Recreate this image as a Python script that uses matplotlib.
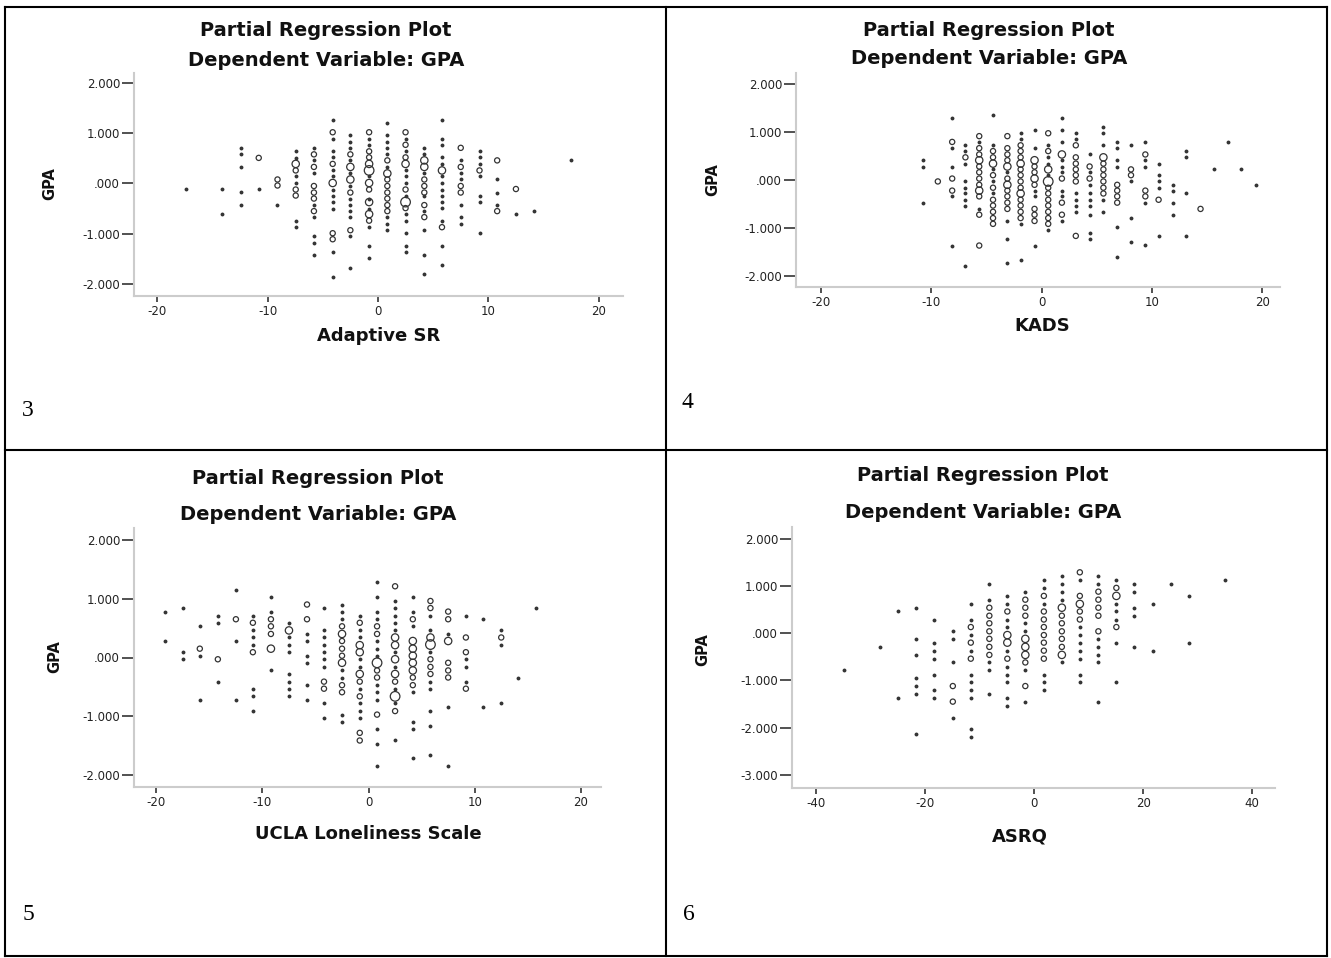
#!/usr/bin/env python3
"""Four SPSS-style partial regression plots (dependent variable GPA) in a 2x2 table."""
import matplotlib
matplotlib.use('Agg')
import matplotlib.pyplot as plt
from matplotlib.lines import Line2D

plt.rcParams['font.family'] = ['DejaVu Sans']
plt.rcParams['axes.unicode_minus'] = False

W, H = 1331, 958

# ---- data: binned points, one column per x bin -------------------------
# dots = single cases, rings = (y, count class) for stacked cases

p3_x = [-17.4, -14.1, -12.4, -10.8, -9.1, -7.45, -5.8, -4.1, -2.5, -0.8,
        0.85, 2.5, 4.2, 5.8, 7.5, 9.2, 10.8, 12.5, 14.1, 17.5]
p3_dots = [
    [-0.11],
    [-0.11, -0.61],
    [0.71, 0.58, 0.33, -0.17, -0.42],
    [-0.11],
    [-0.43],
    [0.64, 0.51, 0.14, 0.01, -0.74, -0.87],
    [0.71, 0.46, 0.20, -0.43, -0.67, -1.05, -1.18, -1.43],
    [1.27, 0.89, 0.64, 0.52, 0.26, 0.14, -0.12, -0.24, -0.37, -0.50, -1.37, -1.86],
    [0.96, 0.83, 0.71, 0.46, 0.20, -0.05, -0.30, -0.43, -0.55, -0.67, -1.05, -1.68],
    [0.89, 0.77, 0.14, -0.30, -0.50, -0.87, -1.24, -1.49],
    [1.21, 0.96, 0.83, 0.71, 0.58, 0.33, -0.67, -0.80, -0.93],
    [0.89, 0.64, 0.26, 0.14, 0.01, -0.24, -0.61, -0.74, -0.99, -1.24, -1.37],
    [0.71, 0.58, 0.20, -0.24, -0.55, -0.93, -1.43, -1.80],
    [1.27, 0.89, 0.77, 0.52, 0.39, 0.14, 0.01, -0.12, -0.24, -0.37, -0.49, -0.74, -1.24, -1.62],
    [0.46, 0.20, 0.08, -0.43, -0.67, -0.80],
    [0.64, 0.52, 0.39, 0.14, -0.24, -0.37, -0.99],
    [0.08, -0.18, -0.43],
    [-0.61],
    [-0.55],
    [0.46],
]
p3_rings = [
    [], [], [],
    [(0.51, 2)],
    [(0.08, 2), (-0.04, 2)],
    [(0.39, 3), (0.26, 2), (-0.12, 2), (-0.24, 2)],
    [(0.58, 2), (0.33, 2), (-0.05, 2), (-0.18, 2), (-0.30, 2), (-0.55, 2)],
    [(1.02, 2), (0.39, 2), (0.01, 3), (-0.99, 2), (-1.11, 2)],
    [(0.58, 2), (0.33, 3), (0.08, 3), (-0.18, 2), (-0.93, 2)],
    [(1.02, 2), (0.64, 2), (0.52, 2), (0.39, 3), (0.26, 4), (0.01, 3),
     (-0.12, 2), (-0.37, 3), (-0.61, 3), (-0.74, 2)],
    [(0.46, 2), (0.20, 3), (0.08, 2), (-0.05, 2), (-0.18, 2), (-0.30, 2),
     (-0.43, 2), (-0.55, 2)],
    [(1.02, 2), (0.77, 2), (0.52, 2), (0.39, 3), (-0.12, 2), (-0.37, 4), (-0.49, 2)],
    [(0.46, 3), (0.33, 3), (0.08, 2), (-0.05, 2), (-0.18, 2), (-0.43, 2), (-0.67, 2)],
    [(0.26, 3), (-0.87, 2)],
    [(0.71, 2), (0.33, 2), (-0.05, 2), (-0.18, 2)],
    [(0.26, 2)],
    [(0.46, 2), (-0.55, 2)],
    [(-0.11, 2)],
    [], [],
]

p4_x = [-10.7, -9.4, -8.1, -6.9, -5.65, -4.4, -3.1, -1.9, -0.64, 0.6, 1.84, 3.1,
        4.35, 5.6, 6.85, 8.1, 9.4, 10.6, 11.9, 13.1, 14.4, 15.6, 16.9, 18.1, 19.4]
p4_dots = [
    [0.41, 0.28, -0.47],
    [],
    [1.29, 0.66, 0.28, -0.34, -1.36],
    [0.72, 0.60, 0.34, -0.03, -0.16, -0.28, -0.41, -0.53, -1.79],
    [0.79, -0.60],
    [1.35, 0.72, 0.22, -0.03, -0.28],
    [0.16, -0.85, -1.23, -1.73],
    [0.97, 0.85, -0.91, -1.67],
    [1.03, 0.66, -0.22, -0.34, -1.36],
    [0.72, 0.47, 0.34, 0.10, -1.03],
    [1.29, 1.03, 0.79, 0.41, 0.28, 0.16, -0.22, -0.34, -0.85],
    [0.97, 0.85, -0.28, -0.41, -0.53, -0.66],
    [0.53, 0.16, -0.10, -0.28, -0.41, -0.53, -0.72, -1.10, -1.23],
    [1.10, 0.97, 0.72, -0.41, -0.66],
    [0.79, 0.66, 0.41, 0.28, -0.97, -1.60],
    [0.72, -0.03, -0.79, -1.29],
    [0.79, 0.41, 0.28, -0.47, -1.35],
    [0.34, 0.10, -0.03, -0.16, -1.16],
    [-0.10, -0.22, -0.47, -0.72],
    [0.60, 0.47, -0.28, -1.16],
    [],
    [0.22],
    [0.79],
    [0.22],
    [-0.10],
]
p4_rings = [
    [],
    [(-0.03, 2)],
    [(0.79, 2), (0.03, 2), (-0.22, 2)],
    [(0.47, 2)],
    [(0.91, 2), (0.66, 2), (0.53, 2), (0.41, 3), (0.28, 2), (0.16, 2), (0.03, 2),
     (-0.10, 2), (-0.22, 3), (-0.34, 2), (-0.72, 2), (-1.36, 2)],
    [(0.60, 2), (0.47, 2), (0.34, 3), (0.10, 2), (-0.16, 2), (-0.41, 2),
     (-0.53, 2), (-0.66, 2), (-0.79, 2), (-0.91, 2)],
    [(0.91, 2), (0.66, 2), (0.53, 2), (0.41, 2), (0.28, 3), (0.03, 2), (-0.10, 3),
     (-0.22, 2), (-0.34, 2), (-0.47, 2), (-0.60, 2)],
    [(0.72, 2), (0.60, 2), (0.47, 2), (0.34, 3), (0.22, 2), (0.10, 2), (-0.03, 2),
     (-0.16, 2), (-0.28, 3), (-0.41, 2), (-0.53, 2), (-0.66, 2), (-0.79, 2)],
    [(0.41, 3), (0.28, 2), (0.16, 2), (0.03, 3), (-0.10, 2), (-0.60, 2),
     (-0.72, 2), (-0.85, 2)],
    [(0.97, 2), (0.60, 2), (0.22, 3), (-0.03, 4), (-0.16, 2), (-0.28, 2),
     (-0.41, 2), (-0.53, 2), (-0.66, 2), (-0.79, 2), (-0.91, 2)],
    [(0.53, 3), (0.03, 2), (-0.47, 2), (-0.72, 2)],
    [(0.72, 2), (0.47, 2), (0.34, 2), (0.22, 2), (0.10, 2), (-0.03, 2), (-1.16, 2)],
    [(0.28, 2), (0.03, 2)],
    [(0.47, 3), (0.34, 2), (0.22, 2), (0.10, 2), (-0.03, 2), (-0.16, 2), (-0.28, 2)],
    [(-0.10, 2), (-0.22, 2), (-0.34, 2), (-0.47, 2)],
    [(0.22, 2), (0.10, 2)],
    [(0.53, 2), (-0.22, 2), (-0.34, 2)],
    [(-0.41, 2)],
    [], [],
    [(-0.60, 2)],
    [], [], [], [],
]

p5_x = [-19.2, -17.5, -15.9, -14.2, -12.5, -10.9, -9.2, -7.5, -5.8, -4.2, -2.5,
        -0.83, 0.8, 2.5, 4.17, 5.83, 7.5, 9.17, 10.8, 12.5, 14.1, 15.8]
p5_dots = [
    [0.78, 0.28],
    [0.84, 0.09, -0.03],
    [0.53, 0.03, -0.72],
    [0.71, 0.59, -0.41],
    [1.15, 0.28, -0.72],
    [0.71, 0.46, 0.34, 0.21, -0.53, -0.66, -0.91],
    [1.03, 0.78, -0.22],
    [0.59, 0.34, 0.21, 0.09, -0.28, -0.41, -0.53, -0.66],
    [0.40, 0.28, 0.03, -0.09, -0.47, -0.72],
    [0.84, 0.46, 0.34, 0.21, 0.09, -0.03, -0.16, -0.78, -1.03],
    [0.90, 0.78, 0.65, -0.22, -0.34, -0.97, -1.09],
    [0.71, 0.46, 0.34, -0.03, -0.16, -0.53, -0.78, -0.91, -1.03],
    [1.28, 1.03, 0.78, 0.65, 0.28, 0.15, 0.03, -0.47, -0.59, -0.72, -1.22, -1.47, -1.84],
    [0.96, 0.84, 0.71, 0.59, 0.46, 0.09, -0.16, -0.53, -0.78, -1.41],
    [1.03, 0.78, 0.53, -0.59, -1.09, -1.22, -1.71],
    [0.71, 0.46, 0.09, -0.41, -0.53, -0.91, -1.16, -1.65],
    [0.40, -0.84, -1.84],
    [0.71, -0.03, -0.16, -0.41],
    [0.65, -0.84],
    [0.46, 0.21, -0.78],
    [-0.34],
    [0.84],
]
p5_rings = [
    [], [],
    [(0.15, 2)],
    [(-0.03, 2)],
    [(0.65, 2)],
    [(0.59, 2), (0.09, 2)],
    [(0.65, 2), (0.53, 2), (0.40, 2), (0.15, 3)],
    [(0.46, 3)],
    [(0.90, 2), (0.65, 2)],
    [(-0.41, 2), (-0.53, 2)],
    [(0.53, 2), (0.40, 3), (0.28, 2), (0.15, 2), (0.03, 2), (-0.09, 3),
     (-0.47, 2), (-0.59, 2)],
    [(0.59, 2), (0.21, 3), (0.09, 3), (-0.28, 3), (-0.41, 2), (-0.66, 2),
     (-1.28, 2), (-1.41, 2)],
    [(0.53, 2), (0.40, 2), (-0.09, 4), (-0.22, 2), (-0.34, 2), (-0.97, 2)],
    [(1.21, 2), (0.34, 3), (0.21, 3), (-0.03, 3), (-0.28, 3), (-0.41, 2),
     (-0.66, 4), (-0.91, 2)],
    [(0.65, 2), (0.28, 3), (0.15, 3), (0.03, 3), (-0.09, 3), (-0.22, 3),
     (-0.34, 2), (-0.47, 2)],
    [(0.96, 2), (0.84, 2), (0.34, 3), (0.22, 4), (-0.03, 2), (-0.16, 2), (-0.28, 2)],
    [(0.78, 2), (0.65, 2), (0.28, 3), (-0.09, 2), (-0.22, 2), (-0.34, 2)],
    [(0.34, 2), (0.09, 2), (-0.53, 2)],
    [],
    [(0.34, 2)],
    [], [],
]

p6_x = [-34.9, -28.3, -24.9, -21.6, -18.3, -14.9, -11.6, -8.2, -4.9, -1.6,
        1.8, 5.1, 8.4, 11.8, 15.1, 18.4, 21.8, 25.1, 28.5, 35.1]
p6_dots = [
    [-0.79],
    [-0.29],
    [0.46, -1.38],
    [0.54, -0.12, -0.46, -0.95, -1.12, -1.29, -2.13],
    [0.29, -0.20, -0.37, -0.54, -0.88, -1.21, -1.38],
    [0.04, -0.12, -0.62, -1.79],
    [0.62, 0.29, -0.04, -0.37, -0.88, -1.04, -1.21, -1.38, -2.04, -2.20],
    [1.04, 0.71, -0.62, -0.79, -1.29],
    [0.79, 0.62, 0.29, 0.13, -0.37, -0.71, -0.88, -1.04, -1.38, -1.54],
    [0.88, 0.21, 0.04, -0.79, -1.45],
    [1.12, 0.96, 0.62, -0.88, -1.04, -1.21],
    [1.21, 1.04, 0.88, 0.71, -0.62],
    [1.12, 0.13, -0.04, -0.20, -0.37, -0.54, -0.88, -1.04],
    [1.21, 1.04, -0.12, -0.29, -0.46, -0.62, -1.45],
    [1.12, 0.62, 0.46, 0.29, -0.20, -1.04],
    [1.04, 0.88, 0.54, 0.37, -0.29],
    [0.62, -0.37],
    [1.04],
    [0.79, -0.20],
    [1.12],
]
p6_rings = [
    [], [], [], [], [],
    [(-1.12, 2), (-1.45, 2)],
    [(0.13, 2), (-0.20, 2), (-0.54, 2)],
    [(0.54, 2), (0.37, 2), (0.21, 2), (0.04, 2), (-0.12, 2), (-0.29, 2), (-0.46, 2)],
    [(0.46, 2), (-0.04, 3), (-0.20, 3), (-0.54, 2)],
    [(0.71, 2), (0.54, 2), (0.37, 2), (-0.12, 3), (-0.29, 3), (-0.46, 3),
     (-0.62, 2), (-1.12, 2)],
    [(0.79, 2), (0.46, 2), (0.29, 2), (0.13, 2), (-0.04, 2), (-0.20, 2),
     (-0.37, 2), (-0.54, 2)],
    [(0.54, 3), (0.37, 2), (0.21, 2), (0.04, 2), (-0.12, 2), (-0.29, 2), (-0.46, 3)],
    [(1.29, 2), (0.79, 2), (0.62, 3), (0.46, 2), (0.29, 2)],
    [(0.88, 2), (0.71, 2), (0.54, 2), (0.37, 2), (0.04, 2)],
    [(0.96, 2), (0.79, 3), (0.13, 2)],
    [], [], [], [], [],
]

x_ticks_20 = [-20, -10, 0, 10, 20]
x_ticks_40 = [-40, -20, 0, 20, 40]
y_ticks_2 = [2, 1, 0, -1, -2]
y_ticks_3 = [2, 1, 0, -1, -2, -3]
y_tick_text = {2: '2.000', 1: '1.000', 0: '.000', -1: '-1.000', -2: '-2.000', -3: '-3.000'}

x_labels = ['Adaptive SR', 'KADS', 'UCLA Loneliness Scale', 'ASRQ']
cell_numbers = ['3', '4', '5', '6']

# ---- layout (pixels of the 1331x958 page) -------------------------------
panels = [
    dict(box=(134, 73, 623, 296), xlim=(-22.1, 22.2), ylim=(-2.24, 2.2),
         xt=x_ticks_20, yt=y_ticks_2, data=(p3_x, p3_dots, p3_rings),
         title=(326, 30, 60), xlab=(379, 336), ylab=(50, 184), num=(28, 410)),
    dict(box=(796, 73, 1280, 287), xlim=(-22.25, 21.6), ylim=(-2.22, 2.22),
         xt=x_ticks_20, yt=y_ticks_2, data=(p4_x, p4_dots, p4_rings),
         title=(989, 31, 59), xlab=(1042, 326), ylab=(713, 180), num=(687, 402)),
    dict(box=(134, 528, 601, 787), xlim=(-22.1, 21.9), ylim=(-2.2, 2.2),
         xt=x_ticks_20, yt=y_ticks_2, data=(p5_x, p5_dots, p5_rings),
         title=(318, 478, 514), xlab=(368, 834), ylab=(55, 657), num=(28, 915)),
    dict(box=(792, 527, 1275, 788), xlim=(-44.4, 44.2), ylim=(-3.28, 2.25),
         xt=x_ticks_40, yt=y_ticks_3, data=(p6_x, p6_dots, p6_rings),
         title=(983, 475, 512), xlab=(1020, 836), ylab=(703, 650), num=(689, 915)),
]

RING_SIZE = {2: 14, 3: 28, 4: 48}


def fx(x):
    return x / W


def fy(y):
    return 1 - y / H


def main():
    fig = plt.figure(figsize=(W / 100, H / 100), dpi=100)
    fig.patch.set_facecolor('white')

    for i, p in enumerate(panels):
        l, t, r, b = p['box']
        ax = fig.add_axes([fx(l), fy(b), (r - l) / W, (b - t) / H])
        cols, dots, rings = p['data']

        dx = [x for x, col in zip(cols, dots) for _ in col]
        dy = [y for col in dots for y in col]
        ax.scatter(dx, dy, s=5, facecolors='#3a3a3a', edgecolors='#222222',
                   linewidths=0.5, zorder=3)

        rx = [x for x, col in zip(cols, rings) for _ in col]
        ry = [y for col in rings for y, _ in col]
        rs = [RING_SIZE[n] for col in rings for _, n in col]
        ax.scatter(rx, ry, s=rs, facecolors='none', edgecolors='#333333',
                   linewidths=0.9, zorder=3)

        ax.set_xlim(*p['xlim'])
        ax.set_ylim(*p['ylim'])
        ax.set_xticks(p['xt'])
        ax.set_xticklabels([str(v) for v in p['xt']])
        ax.set_yticks(p['yt'])
        ax.set_yticklabels([y_tick_text[v] for v in p['yt']])

        for s in ('top', 'right'):
            ax.spines[s].set_visible(False)
        for s in ('left', 'bottom'):
            ax.spines[s].set_color('#cccccc')
            ax.spines[s].set_linewidth(1.5)
        ax.tick_params(axis='y', length=9, width=1.2, color='#333333', pad=1,
                       labelsize=8.5, labelcolor='#222222')
        ax.tick_params(axis='x', length=4.5, width=1.2, color='#333333', pad=2,
                       labelsize=8.5, labelcolor='#222222')

        tx, ty1, ty2 = p['title']
        fig.text(fx(tx), fy(ty1), 'Partial Regression Plot', ha='center',
                 va='center', fontsize=14, fontweight='bold', color='#111111')
        fig.text(fx(tx), fy(ty2), 'Dependent Variable: GPA', ha='center',
                 va='center', fontsize=14, fontweight='bold', color='#111111')
        fig.text(fx(p['xlab'][0]), fy(p['xlab'][1]), x_labels[i], ha='center',
                 va='center', fontsize=13, fontweight='bold', color='#111111')
        fig.text(fx(p['ylab'][0]), fy(p['ylab'][1]), 'GPA', ha='center',
                 va='center', rotation=90, fontsize=10.5, fontweight='bold',
                 color='#111111')
        fig.text(fx(p['num'][0]), fy(p['num'][1]), cell_numbers[i], ha='center',
                 va='center', fontsize=17, family='Liberation Serif', color='black')

    # table grid
    lines = [((5, 1327), (7, 7)), ((5, 1327), (450, 450)), ((5, 1327), (956, 956)),
             ((5, 5), (7, 956)), ((666, 666), (7, 956)), ((1327, 1327), (7, 956))]
    for xs, ys in lines:
        fig.add_artist(Line2D([fx(v) for v in xs], [fy(v) for v in ys],
                              color='black', linewidth=1.5))

    fig.savefig('out.png', dpi=100)
    print('Saved: out.png')


if __name__ == '__main__':
    main()
